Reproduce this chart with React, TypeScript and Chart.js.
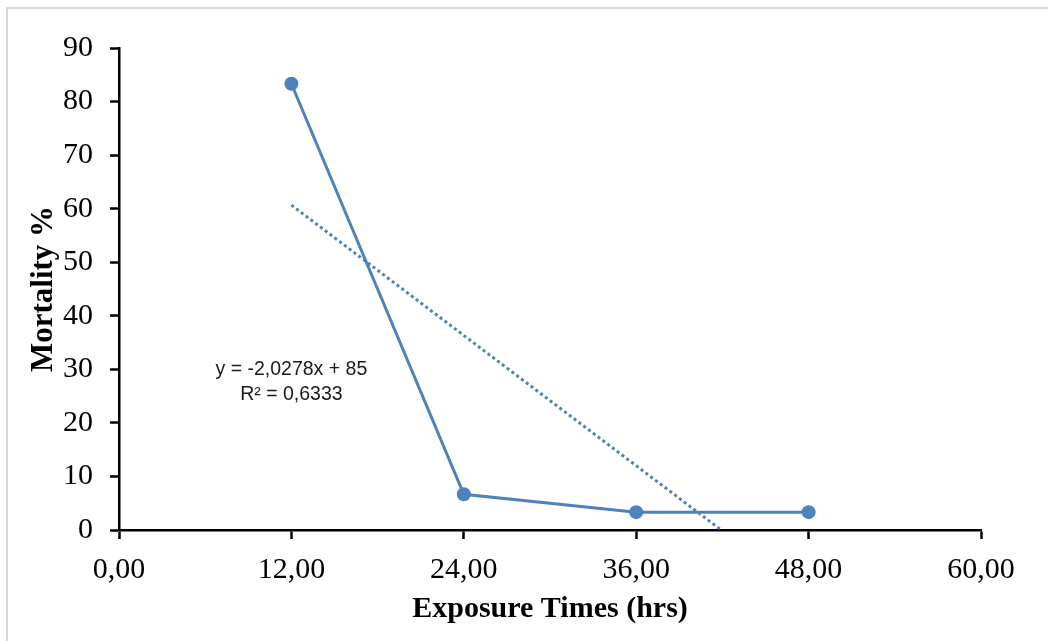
import React, { useEffect, useRef } from "react";
import { Chart, registerables } from "chart.js";

Chart.register(...registerables);

const exposureHours = [12, 24, 36, 48];
const mortality = [83.33, 6.67, 3.33, 3.33];
const trendSlope = -2.0278;
const trendIntercept = 85;
const trendR2 = "0,6333";
const xTicks = [0, 12, 24, 36, 48, 60];
const yTicks = [0, 10, 20, 30, 40, 50, 60, 70, 80, 90];
const xTitle = "Exposure Times (hrs)";
const yTitle = "Mortality %";

const BLUE = "#4F81BD";
const SERIF = "'Liberation Serif', 'Times New Roman', serif";

const fmt = (v: number) => v.toFixed(2).replace(".", ",");

const equationPlugin = {
  id: "equationLabel",
  afterDatasetsDraw(chart: any) {
    const { ctx, scales } = chart;
    const x = scales.x.getPixelForValue(12);
    const y = scales.y.getPixelForValue(30);
    ctx.save();
    ctx.fillStyle = "#1a1a1a";
    ctx.font = "19.5px 'Liberation Sans', Arial, sans-serif";
    ctx.textAlign = "center";
    ctx.textBaseline = "middle";
    const sign = trendIntercept >= 0 ? "+" : "-";
    ctx.fillText(
      `y = ${String(trendSlope).replace(".", ",")}x ${sign} ${Math.abs(trendIntercept)}`,
      x,
      y
    );
    ctx.fillText(`R² = ${trendR2}`, x, y + 25);
    ctx.restore();
  },
};

export default function App() {
  const ref = useRef<HTMLCanvasElement | null>(null);

  useEffect(() => {
    if (!ref.current) return;
    const xEnd = -trendIntercept / trendSlope;
    const trendStart = exposureHours[0];
    const chart = new Chart(ref.current, {
      type: "scatter",
      data: {
        datasets: [
          {
            label: "Mortality",
            data: exposureHours.map((h, i) => ({ x: h, y: mortality[i] })),
            showLine: true,
            borderColor: BLUE,
            backgroundColor: BLUE,
            borderWidth: 3,
            pointRadius: 7,
            pointHoverRadius: 7,
            pointBorderWidth: 0,
            order: 1,
          },
          {
            label: "Linear",
            data: [
              { x: trendStart, y: trendSlope * trendStart + trendIntercept },
              { x: xEnd, y: trendSlope * xEnd + trendIntercept },
            ],
            showLine: true,
            borderColor: BLUE,
            borderWidth: 3,
            borderDash: [3, 3],
            pointRadius: 0,
            order: 2,
          },
        ],
      },
      options: {
        animation: false,
        responsive: false,
        maintainAspectRatio: false,
        layout: { padding: { top: 48, right: 67, left: 0, bottom: 0 } },
        plugins: {
          legend: { display: false },
          tooltip: { enabled: false },
        },
        scales: {
          x: {
            type: "linear",
            min: 0,
            max: 60,
            afterBuildTicks: (s: any) => {
              s.ticks = xTicks.map((v) => ({ value: v }));
            },
            afterFit: (s: any) => {
              s.height = 111;
            },
            ticks: {
              color: "#000",
              font: { family: SERIF, size: 30 },
              padding: 13,
              callback: (v: any) => fmt(Number(v)),
              maxRotation: 0,
            },
            grid: {
              display: true,
              drawOnChartArea: false,
              drawTicks: true,
              tickLength: 9,
              tickWidth: 2.5,
              color: "#000",
            },
            border: { display: true, color: "#000", width: 2.5 },
            title: {
              display: true,
              text: xTitle,
              color: "#000",
              font: { family: SERIF, size: 30, weight: "bold" },
              padding: { top: 0, bottom: 14 },
            },
          },
          y: {
            type: "linear",
            min: 0,
            max: 90,
            afterBuildTicks: (s: any) => {
              s.ticks = yTicks.map((v) => ({ value: v }));
            },
            afterFit: (s: any) => {
              s.width = 119;
            },
            ticks: {
              color: "#000",
              font: { family: SERIF, size: 30 },
              padding: 17,
            },
            grid: {
              display: true,
              drawOnChartArea: false,
              drawTicks: true,
              tickLength: 9,
              tickWidth: 2.5,
              color: "#000",
            },
            border: { display: true, color: "#000", width: 2.5 },
            title: {
              display: true,
              text: yTitle,
              color: "#000",
              font: { family: SERIF, size: 31, weight: "bold" },
              padding: { top: 25, bottom: 0 },
            },
          },
        },
      },
      plugins: [equationPlugin],
    });
    return () => chart.destroy();
  }, []);

  return (
    <div
      style={{
        position: "absolute",
        left: 0,
        top: 0,
        width: 1048,
        height: 641,
        background: "#fff",
        overflow: "hidden",
      }}
    >
      <div
        style={{
          position: "absolute",
          left: 6,
          top: 7,
          width: 1100,
          height: 700,
          borderTop: "2px solid #d9d9d9",
          borderLeft: "2px solid #d9d9d9",
        }}
      />
      <canvas
        ref={ref}
        width={1048}
        height={641}
        style={{ position: "absolute", left: 0, top: 0, width: 1048, height: 641 }}
      />
    </div>
  );
}
